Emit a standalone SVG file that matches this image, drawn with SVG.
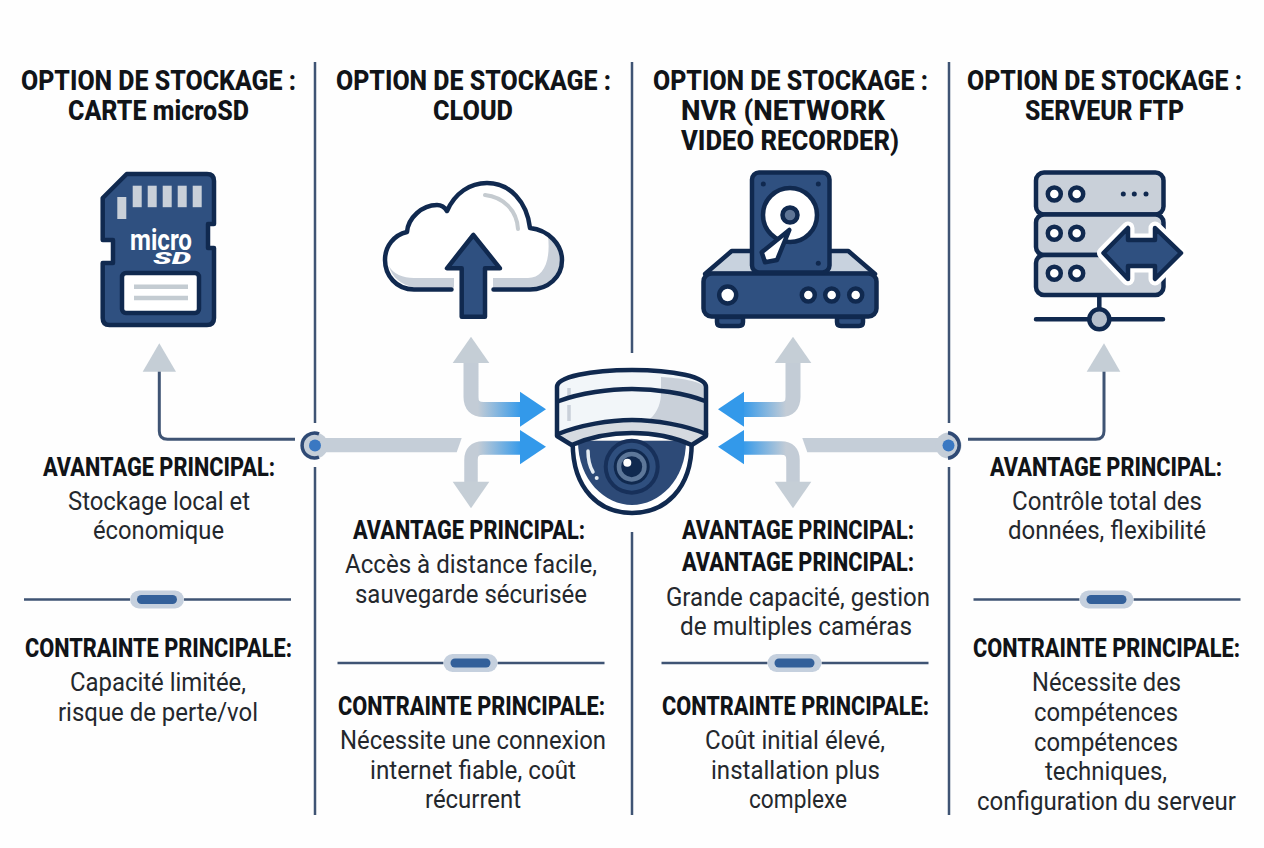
<svg xmlns="http://www.w3.org/2000/svg" xmlns:xlink="http://www.w3.org/1999/xlink" width="1264" height="848" viewBox="0 0 1264 848">
<style>
text{font-family:Roboto,"Liberation Sans",sans-serif;text-anchor:middle}
.h{font-size:28px;font-weight:800;fill:#111418}
.s{font-size:25px;font-weight:800;fill:#111418}
.b{font-size:26px;font-weight:400;fill:#24282d}
.rule{stroke:#3f5474;stroke-width:2.5;fill:none}
.ink{stroke:#10294f;stroke-width:4.500;stroke-linejoin:round;stroke-linecap:round}
.navy{fill:#2f5080}
.pale{fill:#c9d0d9}
.wh{fill:#fff}
.lead{stroke:#3f5474;stroke-width:3;fill:none}
.tri{fill:#c5ced6}
.bar{fill:#c5ced8}
</style>
<defs>
<linearGradient id="fade" gradientUnits="userSpaceOnUse" x1="478" y1="0" x2="522" y2="0">
<stop offset="0" stop-color="#c3ccd6"/><stop offset="1" stop-color="#3399ea"/>
</linearGradient>
<g id="divider">
<path class="rule" d="M0 0H106M160 0H267"/>
<rect x="106" y="-9" width="54" height="18" rx="9" fill="#c5d0de"/>
<rect x="113" y="-4.500" width="40" height="9" rx="4.500" fill="#33609a"/>
</g>
<g id="flow">
<path d="M471 360V397Q471 409.500 483.500 409.500H522" fill="none" stroke="url(#fade)" stroke-width="15"/>
<path class="tri" d="M471 336.700L489.300 363H452.700Z"/>
<path fill="#3399ea" d="M520 391.700L546 409.300L520 426.700Z"/>
<path d="M471 484V460Q471 448 483 448H522" fill="none" stroke="url(#fade)" stroke-width="13.500"/>
<path class="tri" d="M471 508.300L489.300 481.700H452.700Z"/>
<path fill="#3399ea" d="M520 430L546 446.700L520 464.300Z"/>
<path class="bar" d="M315 438H461.700L456.700 452.300H315Z"/>
</g>
</defs>
<rect width="1264" height="848" fill="#fefefe"/>

<g id="connectors">
<path class="rule" d="M315 62V423M315 467V815M632 62V353M632 532V815M949 62V423M949 467V815"/>
<use xlink:href="#flow" href="#flow"/>
<use xlink:href="#flow" href="#flow" transform="translate(1264 0) scale(-1 1)"/>
<path class="lead" d="M159.300 371V431Q159.300 439.300 167.500 439.300H295"/>
<path class="tri" d="M159.300 343.300L176 371.700H142.700Z"/>
<path class="lead" d="M1104 371V431Q1104 439.300 1095.800 439.300H968"/>
<path class="tri" d="M1104 343.300L1120.300 371.700H1086.700Z"/>
<g id="junction-left">
<circle cx="315" cy="445.500" r="13" fill="#c5ced8"/>
<path d="M319 433.800A12.500 12.500 0 1 0 319 457.200" fill="none" stroke="#2f4a75" stroke-width="3.500"/>
<circle cx="315" cy="445.500" r="6" fill="#3a78c2"/>
</g>
<g id="junction-right">
<circle cx="948.500" cy="445.500" r="13" fill="#c5ced8"/>
<path d="M948 432.800A12.800 12.800 0 0 1 948 458.200" fill="none" stroke="#2f4a75" stroke-width="3.500"/>
<circle cx="948.500" cy="445.500" r="6" fill="#3a78c2"/>
</g>
</g>

<g id="col-microsd">
<text class="h" x="158.500" y="90" textLength="275" lengthAdjust="spacingAndGlyphs">OPTION DE STOCKAGE :</text>
<text class="h" x="158.500" y="120" textLength="181" lengthAdjust="spacingAndGlyphs">CARTE microSD</text>
<g id="icon-microsd">
<path class="navy ink" d="M102.700 198L126.700 174H207Q214 174 214 181V224H208V248H214V318Q214 325 207 325H109.500Q102.700 325 102.700 318V263H113V240H102.700Z"/>
<g class="pale">
<rect x="117.300" y="197" width="9" height="22"/>
<rect x="132.700" y="185.700" width="9" height="21.500"/>
<rect x="147.700" y="185.700" width="9" height="21.500"/>
<rect x="162.700" y="185.700" width="9" height="21.500"/>
<rect x="177.700" y="185.700" width="9" height="21.500"/>
<rect x="192.700" y="185.700" width="9" height="21.500"/>
</g>
<text x="161" y="250" font-size="29" font-weight="700" fill="#fff" textLength="62" lengthAdjust="spacingAndGlyphs">micro</text>
<text x="172" y="264" font-size="17" font-weight="900" font-style="italic" fill="#fff" textLength="38" lengthAdjust="spacingAndGlyphs">SD</text>
<rect class="wh ink" x="122" y="273" width="77" height="40" rx="4"/>
<path d="M134 286.700H188M134 298H188" stroke="#c4ccd2" stroke-width="4.500" fill="none"/>
</g>
<text class="s" x="159" y="476" textLength="232" lengthAdjust="spacingAndGlyphs">AVANTAGE PRINCIPAL:</text>
<text class="b" x="159" y="510" textLength="182" lengthAdjust="spacingAndGlyphs">Stockage local et</text>
<text class="b" x="158.500" y="539" textLength="131" lengthAdjust="spacingAndGlyphs">économique</text>
<use xlink:href="#divider" href="#divider" x="24" y="599.500"/>
<text class="s" x="158.500" y="657" textLength="267" lengthAdjust="spacingAndGlyphs">CONTRAINTE PRINCIPALE:</text>
<text class="b" x="158" y="691" textLength="176" lengthAdjust="spacingAndGlyphs">Capacité limitée,</text>
<text class="b" x="158" y="721" textLength="200" lengthAdjust="spacingAndGlyphs">risque de perte/vol</text>
</g>

<g id="col-cloud">
<text class="h" x="473.500" y="90" textLength="275" lengthAdjust="spacingAndGlyphs">OPTION DE STOCKAGE :</text>
<text class="h" x="473" y="120" textLength="80" lengthAdjust="spacingAndGlyphs">CLOUD</text>
<g id="icon-cloud">
<path class="wh" d="M414 289.500C396 289.500 385 275 385 260C385 246 394 235 407 232C408 218 422 205 437 205C441 205 444 206 447 211C455 193 470 183 487 183C510 183 527 202 530 228C549 230 562 245 562 260C562 277 548 289.500 530 289.500Z"/>
<path class="pale" d="M389 266C392 278 402 285 414 287.500H454V278H414C403 278 393 274 389 266ZM493 278H528C543 278 551 262 548 236C556 243 560 250 560 260C560 275 547 287.500 530 287.500H493Z"/>
<path d="M485 195C503 197 517 210 518 229" fill="none" stroke="#c5cbd0" stroke-width="4" stroke-linecap="round"/>
<path class="ink" fill="none" d="M451.500 289.500H414C396 289.500 385 275 385 260C385 246 394 235 407 232C408 218 422 205 437 205C441 205 444 206 447 211C455 193 470 183 487 183C510 183 527 202 530 228C549 230 562 245 562 260C562 277 548 289.500 530 289.500H493.500"/>
<path class="navy ink" d="M473.300 235L447 268.300H461.700V316.700H485V268.300H500Z"/>
</g>
<text class="s" x="469" y="539" textLength="232" lengthAdjust="spacingAndGlyphs">AVANTAGE PRINCIPAL:</text>
<text class="b" x="471" y="573" textLength="252" lengthAdjust="spacingAndGlyphs">Accès à distance facile,</text>
<text class="b" x="471" y="603" textLength="232" lengthAdjust="spacingAndGlyphs">sauvegarde sécurisée</text>
<use xlink:href="#divider" href="#divider" x="337.500" y="663"/>
<text class="s" x="471.500" y="715" textLength="267" lengthAdjust="spacingAndGlyphs">CONTRAINTE PRINCIPALE:</text>
<text class="b" x="473" y="749" textLength="266" lengthAdjust="spacingAndGlyphs">Nécessite une connexion</text>
<text class="b" x="473" y="779" textLength="206" lengthAdjust="spacingAndGlyphs">internet fiable, coût</text>
<text class="b" x="473" y="808" textLength="96" lengthAdjust="spacingAndGlyphs">récurrent</text>
</g>

<g id="col-nvr">
<text class="h" x="790.500" y="90" textLength="275" lengthAdjust="spacingAndGlyphs">OPTION DE STOCKAGE :</text>
<text class="h" x="783" y="120" textLength="204" lengthAdjust="spacingAndGlyphs">NVR (NETWORK</text>
<text class="h" x="790" y="150" textLength="218" lengthAdjust="spacingAndGlyphs">VIDEO RECORDER)</text>
<g id="icon-nvr">
<path class="navy ink" d="M717 317H743V322Q743 326 739 326H721Q717 326 717 322ZM837 317H863V322Q863 326 859 326H841Q837 326 837 322Z"/>
<path class="ink" fill="#c8d2de" d="M705 274L731.700 251H848.300L875 274Z"/>
<rect class="navy ink" x="703.500" y="273.500" width="173" height="43" rx="8"/>
<rect class="navy ink" x="752" y="172.500" width="77.500" height="100" rx="7"/>
<circle class="wh ink" cx="790" cy="215" r="27"/>
<circle class="ink" fill="#5f7596" cx="790" cy="215" r="7.500"/>
<path class="wh ink" d="M789.300 230L777 260L765 262.300L761.700 252.300Z"/>
<g fill="#10294f">
<circle cx="763.300" cy="184" r="2.500"/><circle cx="818.300" cy="184" r="2.500"/><circle cx="818.300" cy="263.300" r="2.500"/>
</g>
<circle class="wh ink" cx="727.700" cy="295" r="8.500"/>
<circle class="wh ink" cx="808.300" cy="295" r="6.500"/>
<circle class="wh ink" cx="831.700" cy="295" r="6.500"/>
<circle class="wh ink" cx="855.700" cy="295" r="6.500"/>
</g>
<text class="s" x="798" y="539" textLength="232" lengthAdjust="spacingAndGlyphs">AVANTAGE PRINCIPAL:</text>
<text class="s" x="798" y="571" textLength="232" lengthAdjust="spacingAndGlyphs">AVANTAGE PRINCIPAL:</text>
<text class="b" x="798" y="606" textLength="264" lengthAdjust="spacingAndGlyphs">Grande capacité, gestion</text>
<text class="b" x="796" y="635" textLength="232" lengthAdjust="spacingAndGlyphs">de multiples caméras</text>
<use xlink:href="#divider" href="#divider" x="661.500" y="663"/>
<text class="s" x="795.500" y="715" textLength="267" lengthAdjust="spacingAndGlyphs">CONTRAINTE PRINCIPALE:</text>
<text class="b" x="795" y="749" textLength="180" lengthAdjust="spacingAndGlyphs">Coût initial élevé,</text>
<text class="b" x="795.500" y="779" textLength="169" lengthAdjust="spacingAndGlyphs">installation plus</text>
<text class="b" x="798" y="808" textLength="98" lengthAdjust="spacingAndGlyphs">complexe</text>
</g>

<g id="col-ftp">
<text class="h" x="1104.500" y="90" textLength="275" lengthAdjust="spacingAndGlyphs">OPTION DE STOCKAGE :</text>
<text class="h" x="1104.500" y="120" textLength="159" lengthAdjust="spacingAndGlyphs">SERVEUR FTP</text>
<g id="icon-ftp">
<path class="ink" fill="none" d="M1099.300 295V312M1036 319.300H1163"/>
<circle class="ink" fill="#b7c0cc" cx="1099.300" cy="319.300" r="10"/>
<rect class="pale ink" x="1036" y="172.500" width="127.500" height="42" rx="8"/>
<rect class="pale ink" x="1036" y="214.500" width="127.500" height="40.500" rx="8"/>
<rect class="pale ink" x="1036" y="255" width="127.500" height="40" rx="8"/>
<g class="wh ink">
<circle cx="1054.300" cy="194" r="6.500"/><circle cx="1076.700" cy="194" r="6.500"/>
<circle cx="1054.300" cy="233.300" r="6.500"/><circle cx="1076.700" cy="233.300" r="6.500"/>
<circle cx="1054.300" cy="273.300" r="6.500"/><circle cx="1076.700" cy="273.300" r="6.500"/>
</g>
<g fill="#10294f">
<circle cx="1123.300" cy="194" r="2.500"/><circle cx="1134.300" cy="194" r="2.500"/><circle cx="1146" cy="194" r="2.500"/>
</g>
<path fill="#fff" stroke="#fff" stroke-width="13" stroke-linejoin="round" d="M1103.500 253L1128 228V240H1155V228L1181 253L1155 279V266H1128V279Z"/>
<path class="navy ink" d="M1103.500 253L1128 228V240H1155V228L1181 253L1155 279V266H1128V279Z"/>
</g>
<text class="s" x="1106" y="476" textLength="232" lengthAdjust="spacingAndGlyphs">AVANTAGE PRINCIPAL:</text>
<text class="b" x="1107" y="510" textLength="190" lengthAdjust="spacingAndGlyphs">Contrôle total des</text>
<text class="b" x="1107" y="539" textLength="198" lengthAdjust="spacingAndGlyphs">données, flexibilité</text>
<use xlink:href="#divider" href="#divider" x="973.500" y="599.500"/>
<text class="s" x="1106.500" y="657" textLength="267" lengthAdjust="spacingAndGlyphs">CONTRAINTE PRINCIPALE:</text>
<text class="b" x="1106.500" y="691" textLength="149" lengthAdjust="spacingAndGlyphs">Nécessite des</text>
<text class="b" x="1106" y="721" textLength="144" lengthAdjust="spacingAndGlyphs">compétences</text>
<text class="b" x="1106" y="751" textLength="144" lengthAdjust="spacingAndGlyphs">compétences</text>
<text class="b" x="1106" y="780" textLength="122" lengthAdjust="spacingAndGlyphs">techniques,</text>
<text class="b" x="1106.500" y="810" textLength="259" lengthAdjust="spacingAndGlyphs">configuration du serveur</text>
</g>

<g id="camera">
<path class="wh ink" d="M572.700 443C572.700 490 600 513 632 513C664 513 691.700 490 691.700 443Z"/>
<path fill="#2d4a77" d="M578 441C578 480 605 505 632 505C659 505 686 480 686 441Z"/>
<path fill="#f2f6f9" d="M557 387C557 377 590 370 632 370C674 370 706 377 706 387V436L691.700 445C672 436 650 433 632 433C612 433 590 437 571.700 445L557 436Z"/>
<path class="pale" d="M661 377C680 378 700 381 705 387V399C695 395 680 392 661 391ZM661 393C680 394 695 397 705 401V433C690 425 665 420 650 419C658 412 661 402 661 393Z"/>
<path fill="#d5dae0" d="M558 434C580 425 610 420 632 420C655 420 685 425 706 434L691.700 445C672 436 650 433 632 433C612 433 590 437 571.700 445Z"/>
<path d="M569 388V398M569 405V421" stroke="#c9d0d9" stroke-width="3.500" fill="none"/>
<path class="ink" fill="none" d="M557 387C557 377 590 370 632 370C674 370 706 377 706 387V436L691.700 445C672 436 650 433 632 433C612 433 590 437 571.700 445L557 436Z"/>
<path class="ink" fill="none" d="M559 401C580 393 610 389 632 389C655 389 685 393 705 401M558 434C580 425 610 420 632 420C655 420 685 425 706 434"/>
<path d="M588 451C588 460 590 467 593 472" fill="none" stroke="#e6edf3" stroke-width="3.500" stroke-linecap="round"/>
<circle cx="596.700" cy="478" r="2" fill="#e6edf3"/>
<circle cx="631.700" cy="466.700" r="28" fill="#17305a"/>
<circle cx="631.700" cy="466.700" r="24" fill="#2f4f7e"/>
<circle cx="631.700" cy="466.700" r="18" fill="#10294f"/>
<circle cx="631.700" cy="466.700" r="15" fill="#5d7799"/>
<circle cx="631.700" cy="466.700" r="10.500" fill="#10294f"/>
<circle cx="627.300" cy="462.700" r="4" fill="#fff"/>
</g>
</svg>
